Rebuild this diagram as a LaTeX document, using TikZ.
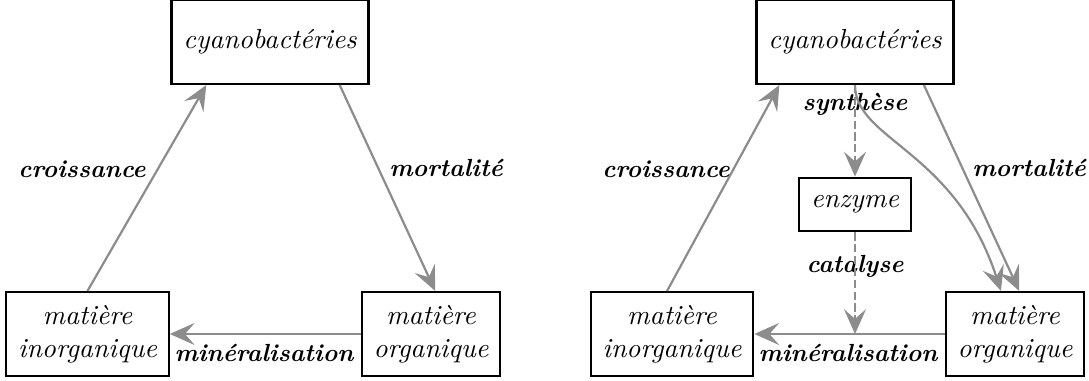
\documentclass[tikz,border=0pt]{standalone}
\usepackage{tikz}
\usetikzlibrary{arrows.meta,positioning,calc}

\begin{document}
\begin{tikzpicture}[
  x=0.3636pt, y=-0.3636pt,
  box/.style={draw, line width=0.8pt, font=\itshape, align=center, inner sep=4.3pt, minimum height=#1},
  box/.default=30.5pt,
  lab/.style={font=\small\bfseries\itshape},
  arrow/.style={-{Stealth[length=9pt,width=8pt,inset=3.5pt]}, black!45, line width=0.8pt},
  dasharrow/.style={arrow, dash pattern=on 3pt off 1.3pt}
]
  \useasboundingbox (0,0) rectangle (1089,381);

  % Left cycle
  \node[box] (cyanoL) at (270,42) {cyanobactéries};
  \node[box] (inorgL) at (87.5,334) {matière\\inorganique};
  \node[box] (orgaL) at (431,334) {matière\\organique};

  \node[lab] (croisL) at (82,169) {croissance};
  \node[lab] (mortL) at (446,168) {mortalité};
  \node[lab] (minL) at (264,353) {minéralisation};

  \draw[arrow] (inorgL.north) -- ($(cyanoL.south west)!0.18!(cyanoL.south east)$);
  \draw[arrow] ($(cyanoL.south west)!0.85!(cyanoL.south east)$) -- ($(orgaL.north west)!0.53!(orgaL.north east)$);
  \draw[arrow] (orgaL.west) -- (inorgL.east);

  % Right cycle, with the enzyme
  \node[box] (cyanoR) at (855,42) {cyanobactéries};
  \node[box=19.5pt] (enzyme) at (855,204.5) {enzyme};
  \node[box] (inorgR) at (672,334) {matière\\inorganique};
  \node[box] (orgaR) at (1015,334) {matière\\organique};

  \node[lab] (croisR) at (666,169) {croissance};
  \node[lab] (mortR) at (1029,168) {mortalité};
  \node[lab] (minR) at (848,353) {minéralisation};
  \node[lab] (synth) at (855,104) {synthèse};
  \node[lab] (catal) at (855,266) {catalyse};

  \draw[arrow] ($(inorgR.north west)!0.47!(inorgR.north east)$) -- ($(cyanoR.south west)!0.12!(cyanoR.south east)$);
  \draw[arrow] ($(cyanoR.south west)!0.846!(cyanoR.south east)$) -- ($(orgaR.north west)!0.53!(orgaR.north east)$);
  \draw[arrow] (cyanoR.south) .. controls (855,140) and (955,150) .. ($(orgaR.north west)!0.40!(orgaR.north east)$);
  \draw[arrow] (orgaR.west) -- (inorgR.east);
  \draw[dasharrow] (cyanoR.south) -- (enzyme.north);
  \draw[dasharrow] (enzyme.south) -- (enzyme.south |- orgaR.west);
\end{tikzpicture}
\end{document}
